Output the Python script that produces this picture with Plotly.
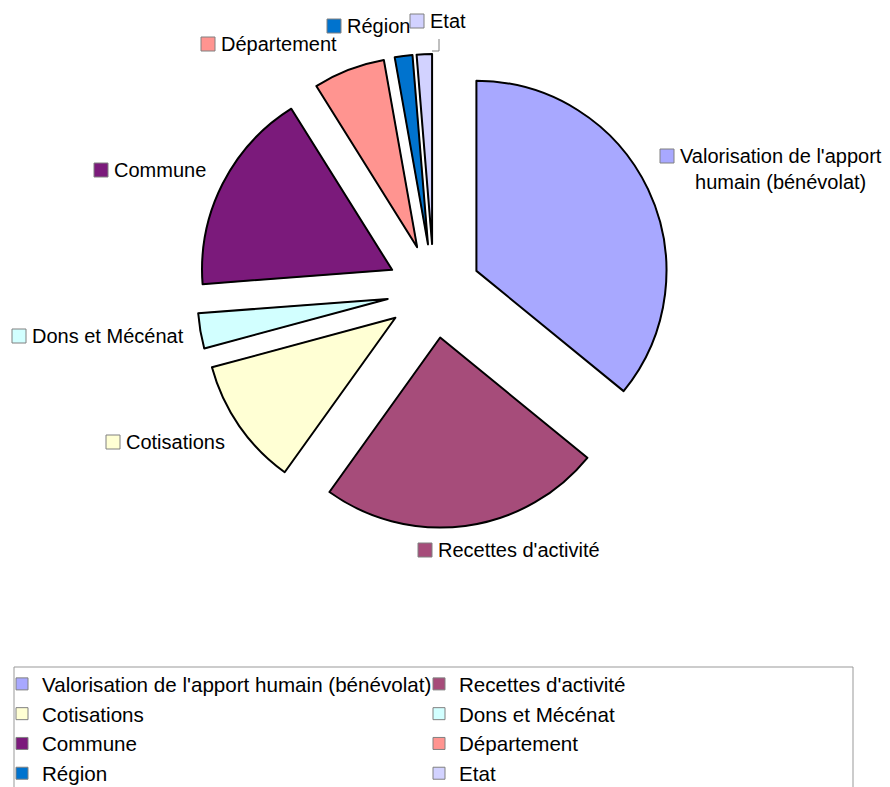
import plotly.graph_objects as go

# ---- data ----
labels = ["Valorisation de l'apport humain (bénévolat)", "Recettes d'activité", "Cotisations",
          "Dons et Mécénat", "Commune", "Département", "Région", "Etat"]
values = [35.9, 24.0, 10.9, 3.0, 17.3, 6.1, 1.5, 1.3]
slice_labels = ["Valorisation de l'apport<br>humain (bénévolat)", "Recettes d'activité", "Cotisations",
                "Dons et Mécénat", "Commune", "Département", "Région", "Etat"]
colors = ["#A8A8FF", "#A64C7A", "#FFFFD4", "#D2FFFF", "#7B1A7B", "#FF9490", "#0073CE", "#D2D2FF"]

# ---- layout constants (pixels) ----
W, H = 890, 787
FONT = "Liberation Sans, Arial, sans-serif"
PULL = 0.247
CX, CY, HALF = 434, 291, 237
# label placement: (swatch left x, swatch centre y, text centre y)
label_pos = [(660, 156, 169), (418, 550, 550), (106, 442, 442), (12, 336, 336),
             (94, 170, 170), (201, 44, 44), (327, 26, 26), (410, 21, 21)]
SW = 14


def px(x):
    return x / W


def py(y):
    return 1 - y / H


domain = dict(x=[px(CX - HALF), px(CX + HALF)], y=[py(CY + HALF), py(CY - HALF)])

fig = go.Figure()
# legend-only pie (drawn underneath, fully covered)
fig.add_trace(go.Pie(labels=labels, values=values, sort=False, direction="clockwise", rotation=0,
                     pull=[PULL] * len(values), domain=domain, textinfo="none", hoverinfo="skip",
                     marker=dict(colors=colors, line=dict(color="#808080", width=1)),
                     showlegend=True))
# visible pie
fig.add_trace(go.Pie(labels=labels, values=values, sort=False, direction="clockwise", rotation=0,
                     pull=[PULL] * len(values), domain=domain, textinfo="none",
                     marker=dict(colors=colors, line=dict(color="black", width=2)),
                     showlegend=False))

shapes = []
annotations = []
for (sx, sy, ty), txt, col in zip(label_pos, slice_labels, colors):
    shapes.append(dict(type="rect", xref="paper", yref="paper",
                       x0=px(sx), x1=px(sx + SW), y0=py(sy + SW / 2), y1=py(sy - SW / 2),
                       fillcolor=col, line=dict(color="#808080", width=1)))
    annotations.append(dict(xref="paper", yref="paper", x=px(sx + 18), y=py(ty),
                            xanchor="left", yanchor="middle", text=txt, showarrow=False,
                            align="center", font=dict(family=FONT, size=20, color="black")))

# leader line for the Etat label
shapes.append(dict(type="path", xref="paper", yref="paper",
                   path=f"M {px(432)},{py(51)} L {px(439)},{py(51)} L {px(439)},{py(39)}",
                   line=dict(color="#808080", width=1)))
# legend frame
shapes.append(dict(type="rect", xref="paper", yref="paper",
                   x0=px(14), x1=px(853), y0=py(810), y1=py(667),
                   line=dict(color="#999999", width=1), fillcolor="rgba(0,0,0,0)"))

fig.update_layout(
    width=W, height=H,
    margin=dict(l=0, r=0, t=0, b=0, autoexpand=False),
    paper_bgcolor="white", plot_bgcolor="white",
    font=dict(family=FONT, size=20, color="black"),
    showlegend=True,
    legend=dict(orientation="h", x=px(2), y=py(664), xanchor="left", yanchor="top",
                entrywidth=372, entrywidthmode="pixels", traceorder="normal",
                font=dict(family=FONT, size=20.6, color="black"),
                bgcolor="rgba(0,0,0,0)", borderwidth=0),
    shapes=shapes, annotations=annotations,
)

fig.write_html("out.html", config={"displayModeBar": False},
               post_script="document.body.style.margin='0px';document.body.style.overflow='hidden';")
